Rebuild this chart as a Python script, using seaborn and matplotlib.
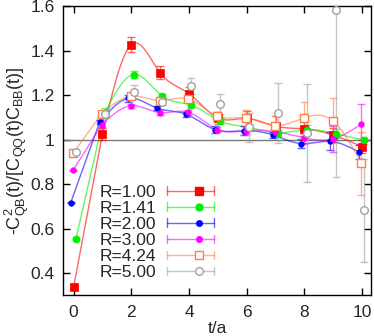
import numpy as np
import pandas as pd
import matplotlib
matplotlib.use("Agg")
import matplotlib.pyplot as plt
import seaborn as sns
from matplotlib.legend_handler import HandlerBase
from matplotlib.lines import Line2D

t = [0, 1, 2, 3, 4, 5, 6, 7, 8, 9, 10]
labels = ["R=1.00", "R=1.41", "R=2.00", "R=3.00", "R=4.24", "R=5.00"]

r100 = [0.337, 1.025, 1.427, 1.300, 1.207, 1.097, 1.095, 1.060, 1.048, 1.020, 0.968]
e100 = [0.005, 0.025, 0.035, 0.030, 0.030, 0.025, 0.035, 0.045, 0.030, 0.030, 0.030]
r141 = [0.553, 1.120, 1.292, 1.195, 1.155, 1.083, 1.055, 1.030, 1.045, 1.027, 0.997]
e141 = [0.005, 0.020, 0.015, 0.012, 0.012, 0.012, 0.015, 0.015, 0.020, 0.020, 0.015]
r200 = [0.716, 1.078, 1.185, 1.141, 1.114, 1.045, 1.040, 1.021, 0.982, 0.992, 0.944]
e200 = [0.003, 0.010, 0.015, 0.010, 0.012, 0.015, 0.020, 0.015, 0.020, 0.040, 0.030]
r300 = [0.862, 1.067, 1.152, 1.121, 1.123, 1.045, 1.040, 1.036, 1.008, 1.003, 1.070]
e300 = [0.003, 0.010, 0.010, 0.010, 0.012, 0.012, 0.015, 0.020, 0.030, 0.060, 0.090]
r424 = [0.938, 1.117, 1.195, 1.175, 1.183, 1.105, 1.097, 1.063, 1.097, 1.085, 0.893]
e424 = [0.005, 0.012, 0.015, 0.015, 0.020, 0.020, 0.035, 0.045, 0.070, 0.100, 0.140]
r500 = [0.943, 1.115, 1.213, 1.171, 1.242, 1.160, 1.055, 1.118, 1.030, 1.583, 0.682]
e500 = [0.005, 0.020, 0.030, 0.015, 0.035, 0.045, 0.065, 0.135, 0.220, 0.753, 0.230]

values = [r100, r141, r200, r300, r424, r500]
errors = [e100, e141, e200, e300, e424, e500]
offsets = [0.0, 0.08, -0.1, -0.02, -0.02, 0.08]
colors = ["#ff0000", "#00ee00", "#0000ff", "#ff00ff", "#ff7f40", "#a0a0a0"]
markers = ["s", "o", "o", "o", "s", "o"]
msizes = [5.5, 5.0, 4.0, 4.0, 5.5, 5.5]
filled = [True, True, True, True, False, False]
has_line = [True, True, True, True, True, False]


def natural_spline(x, y, xs):
    x = np.asarray(x, float); y = np.asarray(y, float)
    n = len(x)
    h = np.diff(x)
    A = np.zeros((n, n)); b = np.zeros(n)
    A[0, 0] = 1; A[-1, -1] = 1
    for i in range(1, n - 1):
        A[i, i - 1] = h[i - 1]
        A[i, i] = 2 * (h[i - 1] + h[i])
        A[i, i + 1] = h[i]
        b[i] = 3 * ((y[i + 1] - y[i]) / h[i] - (y[i] - y[i - 1]) / h[i - 1])
    c = np.linalg.solve(A, b)
    out = np.empty_like(xs)
    for k, xv in enumerate(xs):
        i = min(max(np.searchsorted(x, xv) - 1, 0), n - 2)
        dx = xv - x[i]
        bb = (y[i + 1] - y[i]) / h[i] - h[i] * (2 * c[i] + c[i + 1]) / 3
        d = (c[i + 1] - c[i]) / (3 * h[i])
        out[k] = y[i] + bb * dx + c[i] * dx ** 2 + d * dx ** 3
    return out


sns.set_style("ticks")
plt.rcParams["font.family"] = ["Liberation Sans", "DejaVu Sans"]
plt.rcParams["font.size"] = 12
plt.rcParams["mathtext.fontset"] = "custom"
plt.rcParams["mathtext.rm"] = "Liberation Sans"
plt.rcParams["mathtext.it"] = "Liberation Sans:italic"

fig = plt.figure(figsize=(3.74, 3.36), dpi=100)
ax = fig.add_axes([0.169, 0.121, 0.823, 0.861])

ax.axhline(1.0, color="#777777", lw=1.0, zorder=1)

for vals, errs, off, col, mk, ms, fill, hl in zip(values, errors, offsets, colors,
                                                   markers, msizes, filled, has_line):
    x = np.array(t, float) + off
    if hl:
        xs = np.linspace(x[1], x[-1], 300)
        ys = natural_spline(x[1:], vals[1:], xs)
        xx = np.concatenate([[x[0]], xs])
        yy = np.concatenate([[vals[0]], ys])
        df_line = pd.DataFrame({"x": xx, "y": yy})
        sns.lineplot(data=df_line, x="x", y="y", ax=ax, color=col, lw=1.0,
                     alpha=0.6, sort=False, estimator=None, zorder=2)
    ax.errorbar(x, vals, yerr=errs, fmt="none", ecolor=col, elinewidth=1.0,
                capsize=3, capthick=1.0, alpha=0.6, zorder=3)
    df = pd.DataFrame({"x": x, "y": vals})
    if fill:
        sns.scatterplot(data=df, x="x", y="y", ax=ax, marker=mk, s=ms ** 2,
                        color=col, edgecolor=col, linewidth=0.5, zorder=4)
    else:
        ax.plot(x, vals, linestyle="none", marker=mk, ms=ms, mfc="white",
                mec=col, mew=1.0, zorder=4)


class SampleHandler(HandlerBase):
    def __init__(self, color, marker, ms, fill):
        super().__init__()
        self.color, self.marker, self.ms, self.fill = color, marker, ms, fill

    def create_artists(self, legend, orig_handle, xdescent, ydescent, width,
                       height, fontsize, trans):
        yc = height / 2 - ydescent
        ln = Line2D([0, width], [yc, yc], color=self.color, lw=1.0, alpha=0.6,
                    transform=trans)
        c1 = Line2D([0, 0], [yc - 3, yc + 3], color=self.color, lw=1.0,
                    alpha=0.6, transform=trans)
        c2 = Line2D([width, width], [yc - 3, yc + 3], color=self.color, lw=1.0,
                    alpha=0.6, transform=trans)
        mk = Line2D([width * 0.68], [yc], marker=self.marker, ms=self.ms,
                    mfc=self.color if self.fill else "white", mec=self.color,
                    mew=1.0, linestyle="none", transform=trans)
        return [ln, c1, c2, mk]


handles = [Line2D([], []) for _ in labels]
hmap = {h: SampleHandler(c, m, s, f) for h, c, m, s, f in
        zip(handles, colors, markers, msizes, filled)}
ax.legend(handles, labels, handler_map=hmap, loc="upper left",
          bbox_to_anchor=(0.119, 0.383), frameon=False, markerfirst=False,
          handlelength=2.7, handletextpad=0.6, labelspacing=0.05,
          borderpad=0, borderaxespad=0, fontsize=12.5)

ax.set_xlim(-0.36, 10.31)
ax.set_ylim(0.3, 1.6)
ax.set_xticks([0, 2, 4, 6, 8, 10])
ax.set_yticks([0.4, 0.6, 0.8, 1.0, 1.2, 1.4, 1.6])
ax.set_yticklabels(["0.4", "0.6", "0.8", "1", "1.2", "1.4", "1.6"])
ax.tick_params(direction="in", top=True, right=True, length=5, width=1,
               labelsize=12.5, color="black")
ax.tick_params(axis="x", pad=7)
ax.tick_params(axis="y", pad=6)
for sp in ax.spines.values():
    sp.set_visible(True)
    sp.set_color("black")
    sp.set_linewidth(1.0)
ax.set_xlabel("t/a", fontsize=12.5, labelpad=1)
ax.set_ylabel(r"-C$^2_{\rm QB}$(t)/[C$_{\rm QQ}$(t)C$_{\rm BB}$(t)]",
              fontsize=13, labelpad=0)

fig.savefig("out.png", dpi=100)
